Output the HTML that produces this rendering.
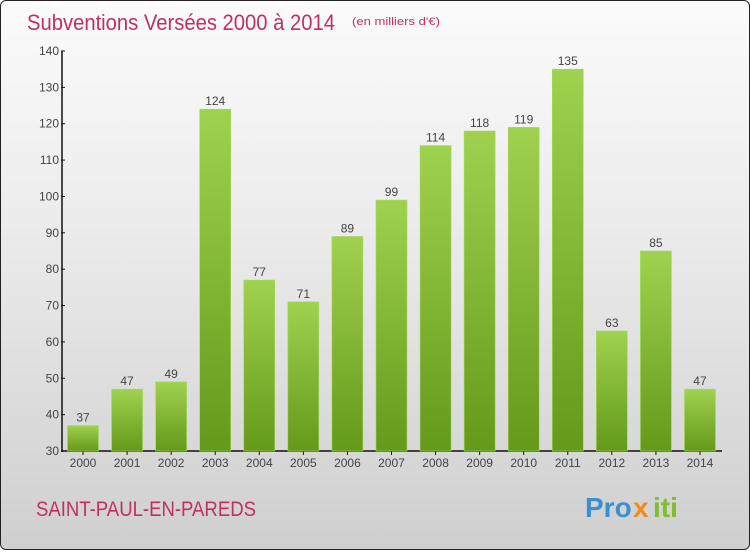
<!DOCTYPE html>
<html><head><meta charset="utf-8"><style>
html,body{margin:0;padding:0;}
body{width:750px;height:550px;overflow:hidden;font-family:"Liberation Sans",sans-serif;}
#frame{position:absolute;left:0;top:0;width:748px;height:548px;border:1px solid #222;border-radius:6px;background:linear-gradient(#fbfbfb,#ececec 40%,#cfcfcf);}
</style></head><body>
<div id="frame">
<svg id="chart" width="750" height="550">
<defs><linearGradient id="bg" x1="0" y1="0" x2="0" y2="1"><stop offset="0" stop-color="#9fd24e"/><stop offset="1" stop-color="#64991a"/></linearGradient></defs>
<text x="26" y="29" font-size="22" fill="#c0305f" textLength="308" lengthAdjust="spacingAndGlyphs">Subventions Versées 2000 à 2014</text>
<text x="351" y="24" font-size="11" fill="#c0305f" textLength="88" lengthAdjust="spacingAndGlyphs">(en milliers d'€)</text>
<text x="35" y="515" font-size="21" fill="#c0305f" textLength="220" lengthAdjust="spacingAndGlyphs">SAINT-PAUL-EN-PAREDS</text>
<g font-size="28" font-weight="bold">
<text x="584" y="516" fill="#3a8fd0">Pro</text><text x="632" y="516" fill="#f08a1a">x</text><text x="652" y="516" fill="#7bbf2a">iti</text></g>
<g id="axes"></g><g id="bars"></g>
</svg></div>
<script>
const categories=["2000","2001","2002","2003","2004","2005","2006","2007","2008","2009","2010","2011","2012","2013","2014"];
const values=[37,47,49,124,77,71,89,99,114,118,119,135,63,85,47];
const yTicks=[30,40,50,60,70,80,90,100,110,120,130,140];
const NS="http://www.w3.org/2000/svg";
const y0=450,y1=50,vmin=30,vmax=140;
function y(v){return y0-(v-vmin)/(vmax-vmin)*(y0-y1);}
function x(i){return 66.5+i*44.07;}
const bw=31;
function mk(t,a,p){const e=document.createElementNS(NS,t);for(const k in a)e.setAttribute(k,a[k]);p.appendChild(e);return e;}
const ax=document.getElementById('axes'),bg=document.getElementById('bars');
const yl=mk('line',{x1:61,y1:y1,x2:61,y2:y0+1,stroke:'#111','stroke-width':1.5},ax);


const xl=mk('line',{x1:60,y1:y0,x2:721,y2:y0,stroke:'#111','stroke-width':1.5},ax);


yTicks.forEach(v=>{
 mk('line',{x1:60,y1:y(v),x2:64,y2:y(v),stroke:'#111'},ax);
 const t=mk('text',{x:58,y:y(v)+4,'text-anchor':'end','font-size':12,fill:'#444'},ax);
 t.textContent=v;
 
 
});
categories.forEach((c,i)=>{
 const v=values[i];
 const r=mk('rect',{x:x(i),y:y(v),width:bw,height:y0-y(v),fill:'url(#bg)',stroke:'#a8d860','stroke-width':0.6},bg);
 
 
 const lt=mk('text',{x:x(i)+bw/2,y:y(v)-4,'text-anchor':'middle','font-size':12,fill:'#444'},bg);
 lt.textContent=v;
 
 
 mk('line',{x1:x(i)+bw/2,y1:y0,x2:x(i)+bw/2,y2:y0+4,stroke:'#111'},ax);
 const xt=mk('text',{x:x(i)+bw/2,y:y0+16,'text-anchor':'middle','font-size':12,fill:'#444'},ax);
 xt.textContent=c;
 
 
});
</script>
</body></html>
